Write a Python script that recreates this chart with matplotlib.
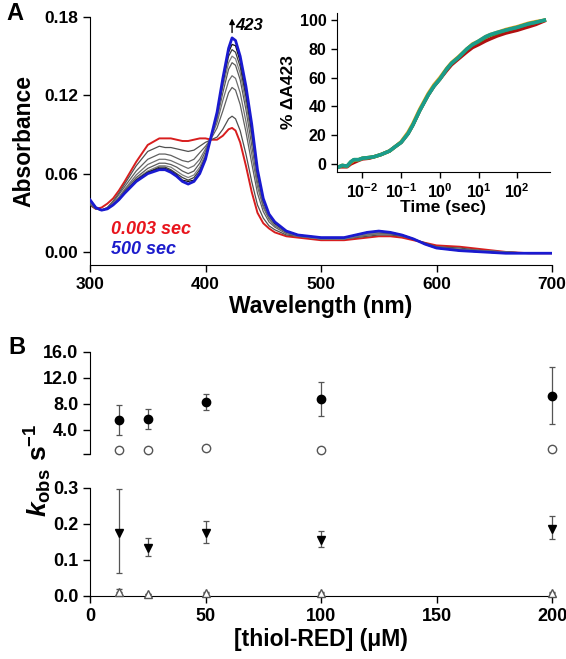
import numpy as np
import matplotlib
matplotlib.use('Agg')
import matplotlib.pyplot as plt

plt.rcParams['font.family'] = ['Liberation Sans', 'DejaVu Sans']
plt.rcParams['font.weight'] = 'bold'
plt.rcParams['mathtext.fontset'] = 'custom'
plt.rcParams['mathtext.rm'] = 'Liberation Sans:bold'
plt.rcParams['mathtext.it'] = 'Liberation Sans:italic:bold'
plt.rcParams['mathtext.bf'] = 'Liberation Sans:bold'

## panel A: spectra (absorbance vs wavelength)
wl = [300, 305, 310, 315, 320, 325, 330, 340, 350, 360, 365, 370, 375, 380, 385, 390, 395, 400,
      405, 410, 415, 420, 423, 426, 430, 435, 440, 445, 450, 455, 460, 470, 480, 490, 500, 520,
      540, 550, 560, 570, 580, 590, 600, 620, 640, 660, 680, 700]

abs_red = [.036, .033, .034, .037, .041, .047, .054, .069, .082, .087, .087, .087, .086, .085, .085, .086, .087, .087,
           .086, .086, .089, .094, .095, .093, .084, .066, .046, .030, .022, .018, .015, .012, .011, .010, .009, .009,
           .011, .012, .012, .011, .009, .007, .005, .004, .002, .000, -.001, -.001]
abs_g1 = [.036, .033, .032, .034, .039, .045, .052, .066, .077, .081, .080, .080, .079, .078, .077, .078, .081, .084,
          .086, .088, .094, .102, .104, .102, .093, .075, .054, .036, .026, .020, .017, .013, .012, .011, .010, .010,
          .012, .013, .013, .012, .010, .007, .004, .003, .001, .000, -.001, -.001]
abs_g2 = [.037, .033, .032, .034, .038, .044, .050, .062, .071, .075, .075, .074, .072, .070, .069, .071, .076, .081,
          .087, .095, .108, .122, .126, .124, .113, .092, .068, .045, .031, .023, .019, .014, .012, .011, .010, .010,
          .013, .014, .014, .012, .010, .006, .004, .002, .001, .000, -.001, -.001]
abs_g3 = [.038, .034, .032, .033, .037, .042, .048, .059, .067, .071, .071, .070, .068, .066, .064, .066, .071, .079,
          .088, .099, .116, .131, .135, .133, .122, .100, .075, .050, .034, .025, .020, .015, .012, .011, .010, .010,
          .013, .014, .014, .013, .010, .006, .003, .002, .001, .000, -.001, -.001]
abs_g4 = [.039, .034, .032, .033, .036, .041, .047, .057, .064, .068, .068, .067, .065, .062, .060, .062, .068, .077,
          .088, .102, .122, .140, .145, .143, .132, .109, .082, .054, .036, .026, .021, .015, .013, .011, .010, .010,
          .014, .015, .014, .013, .010, .006, .003, .001, .000, -.001, -.001, -.001]
abs_g5 = [.039, .034, .032, .033, .036, .041, .046, .056, .062, .066, .066, .065, .062, .059, .057, .059, .065, .075,
          .089, .104, .126, .145, .150, .148, .137, .114, .087, .057, .038, .027, .021, .016, .013, .011, .010, .010,
          .014, .015, .015, .013, .010, .006, .003, .001, .000, -.001, -.001, -.001]
abs_g6 = [.040, .034, .032, .033, .036, .040, .046, .055, .061, .065, .065, .063, .060, .057, .055, .057, .063, .073,
          .089, .105, .129, .150, .155, .153, .142, .119, .091, .059, .039, .028, .022, .016, .013, .012, .011, .011,
          .015, .016, .015, .013, .010, .006, .003, .001, .000, -.001, -.001, -.001]
abs_g7 = [.040, .034, .032, .033, .036, .040, .045, .055, .061, .064, .064, .062, .059, .055, .054, .055, .061, .072,
          .089, .106, .131, .153, .159, .158, .146, .123, .095, .061, .040, .029, .022, .016, .013, .012, .011, .011,
          .015, .016, .015, .013, .010, .006, .003, .001, .000, -.001, -.001, -.001]
abs_blue = [.040, .034, .032, .033, .036, .040, .045, .054, .060, .063, .063, .061, .058, .054, .052, .054, .060, .071,
            .089, .107, .133, .156, .164, .162, .150, .127, .098, .063, .041, .029, .023, .016, .013, .012, .011, .011,
            .015, .016, .015, .013, .010, .006, .003, .001, .000, -.001, -.001, -.001]
gray_traces = [abs_g1, abs_g2, abs_g3, abs_g4, abs_g5, abs_g6, abs_g7]
gray_colors = ['#505050', '#606060', '#707070', '#5a5a5a', '#808080', '#3c3c3c', '#101010']

## inset: % change at 423 nm vs time
t_sec = [0.0025, 0.003, 0.004, 0.005, 0.006, 0.008, 0.01, 0.015, 0.02, 0.03, 0.05, 0.07, 0.1, 0.15, 0.2,
         0.3, 0.5, 0.7, 1, 1.5, 2, 3, 5, 7, 10, 15, 20, 30, 50, 70, 100, 150, 200, 300, 500]
pct_red = [-2, -2, -2, 0, 1, 2.5, 3.5, 4, 5, 6.5, 9, 12, 15, 21, 27, 37, 48, 54, 59, 65, 69, 73, 78, 81, 83,
           85.5, 87, 89, 91, 92, 93, 94.5, 95.5, 97, 99.5]
pct_orange = [-2, -1, -1.5, 1, 2.5, 3, 4, 4.5, 5, 6.5, 9, 12, 15.5, 22, 28, 38, 49, 55, 60, 66.5, 70.5, 74.5, 80,
              83.5, 85.5, 88.5, 90, 91.5, 93.5, 94.5, 95.5, 97, 98, 99, 100]
pct_green = [-2, -1, -1.5, 1.5, 3, 3, 4, 4.5, 5, 6.5, 9, 12, 15, 21, 27, 37, 48, 54, 59, 66, 70, 74, 80, 83,
             85, 88, 89.5, 91, 93, 94, 95, 96.5, 97.5, 98.5, 100]
pct_teal = [-2, -1, -1.5, 1.5, 3, 3, 4, 4.5, 5, 6.5, 9, 12, 15, 21, 27, 37, 48, 54, 59, 66, 70, 74, 80, 83,
            85.5, 88.5, 90, 91.5, 93, 94, 95, 96.5, 97.5, 98.5, 100]

## panel B: k_obs vs [thiol-RED]
conc = [12.5, 25, 50, 100, 200]
k_fast = [5.5, 5.7, 8.3, 8.8, 9.3]
k_fast_lo = [3.2, 4.1, 7.0, 6.2, 4.9]
k_fast_hi = [7.8, 7.3, 9.6, 11.4, 13.7]
k_fast_open = [0.85, 0.85, 1.2, 0.95, 1.1]
k_slow = [0.175, 0.134, 0.176, 0.156, 0.186]
k_slow_lo = [0.064, 0.112, 0.147, 0.137, 0.157]
k_slow_hi = [0.296, 0.160, 0.209, 0.181, 0.221]
k_slow_open = [0.010, 0.005, 0.008, 0.007, 0.008]
k_slow_open_hi = [0.020, 0.005, 0.011, 0.010, 0.011]

W, H = 566, 659
fig = plt.figure(figsize=(W / 100, H / 100), dpi=100)

def box(l, t, r, b):
    return [l / W, 1 - b / H, (r - l) / W, (b - t) / H]

# --- panel A
ax = fig.add_axes(box(90, 17, 552, 265))
ax.plot(wl, abs_red, color='#d81e1e', lw=1.4, zorder=2)
for tr, c in zip(gray_traces, gray_colors):
    ax.plot(wl, tr, color=c, lw=0.9, zorder=3)
ax.plot(wl, abs_blue, color='#1a1ad0', lw=2.0, zorder=4)
ax.set_xlim(300, 700)
ax.set_ylim(-0.01, 0.18)
ax.set_xticks([300, 400, 500, 600, 700])
ax.set_yticks([0.0, 0.06, 0.12, 0.18])
ax.set_yticklabels(['0.00', '0.06', '0.12', '0.18'])
for s in ['top', 'right']:
    ax.spines[s].set_visible(False)
ax.tick_params(labelsize=12.5, direction='out', length=5, width=1)
ax.set_xlabel('Wavelength (nm)', fontsize=16.5, fontweight='bold', labelpad=2)
ax.set_ylabel('Absorbance', fontsize=16.5, fontweight='bold', labelpad=6)
ax.annotate('', xy=(423, 0.181), xytext=(423, 0.166),
            arrowprops=dict(arrowstyle='-|>', lw=1, color='k', mutation_scale=8), annotation_clip=False)
ax.text(426, 0.1735, '423', fontsize=12, fontweight='bold', style='italic', va='center', ha='left')
ax.text(318, 0.0175, '0.003 sec', fontsize=13, fontweight='bold', style='italic', color='#e8141c', va='center')
ax.text(318, 0.0015, '500 sec', fontsize=13, fontweight='bold', style='italic', color='#1c1ccc', va='center')
fig.text(6 / W, 1 - 14 / H, 'A', fontsize=17, fontweight='bold', va='center')

# --- inset
ins = fig.add_axes(box(337, 13, 550, 172))
ins.plot(t_sec, pct_red, color='#b01010', lw=2.5)
ins.plot(t_sec, pct_orange, color='#e0a020', lw=2.5)
ins.plot(t_sec, pct_green, color='#3a9a3a', lw=2.5)
ins.plot(t_sec, pct_teal, color='#1a9c8c', lw=2.5)
ins.set_xscale('log')
ins.set_xlim(0.0022, 700)
ins.set_ylim(-5.6, 105)
ins.set_yticks([0, 20, 40, 60, 80, 100])
ins.set_xticks([0.01, 0.1, 1, 10, 100])
ins.set_xticklabels([r'$\mathbf{10^{-2}}$', r'$\mathbf{10^{-1}}$', r'$\mathbf{10^{0}}$',
                     r'$\mathbf{10^{1}}$', r'$\mathbf{10^{2}}$'])
for s in ['top', 'right']:
    ins.spines[s].set_visible(False)
ins.patch.set_alpha(0)
ins.tick_params(labelsize=11.5, direction='out', length=4, width=1)
ins.tick_params(which='minor', direction='out', length=2.5, width=0.8)
ins.set_xlabel('Time (sec)', fontsize=12.5, fontweight='bold', labelpad=-1)
ins.set_ylabel('% \u0394A423', fontsize=12.5, fontweight='bold', labelpad=3)

# --- panel B top (fast phase)
bt = fig.add_axes(box(90, 352, 552, 454))
bt.errorbar(conc, k_fast, yerr=[np.subtract(k_fast, k_fast_lo), np.subtract(k_fast_hi, k_fast)],
            fmt='o', color='black', ms=6, ecolor='#555555', elinewidth=0.9, capsize=2.5, capthick=0.9,
            clip_on=False, zorder=3)
bt.plot(conc, k_fast_open, 'o', mfc='white', mec='#555555', ms=6, mew=1, clip_on=False)
bt.set_xlim(0, 200)
bt.set_ylim(0.3, 16)
bt.set_yticks([0.3, 4, 8, 12, 16])
bt.set_yticklabels(['', '4.0', '8.0', '12.0', '16.0'])
bt.set_xticks([])
for s in ['top', 'right', 'bottom']:
    bt.spines[s].set_visible(False)
bt.tick_params(labelsize=13, direction='out', length=5, width=1)
fig.text(8 / W, 1 - 347 / H, 'B', fontsize=17, fontweight='bold', va='center')

# --- panel B bottom (slow phase)
bb = fig.add_axes(box(90, 488, 552, 596))
bb.errorbar(conc, k_slow, yerr=[np.subtract(k_slow, k_slow_lo), np.subtract(k_slow_hi, k_slow)],
            fmt='v', color='black', ms=6, ecolor='#555555', elinewidth=0.9, capsize=2.5, capthick=0.9,
            clip_on=False, zorder=3)
bb.errorbar(conc, k_slow_open, yerr=[np.zeros(5), np.subtract(k_slow_open_hi, k_slow_open)],
            fmt='^', mfc='white', mec='#555555', ms=6, mew=1, ecolor='#555555', elinewidth=0.9,
            capsize=2.5, capthick=0.9, clip_on=False, zorder=3)
bb.set_xlim(0, 200)
bb.set_ylim(0, 0.3)
bb.set_yticks([0.0, 0.1, 0.2, 0.3])
bb.set_yticklabels(['0.0', '0.1', '0.2', '0.3'])
bb.set_xticks([0, 50, 100, 150, 200])
for s in ['top', 'right']:
    bb.spines[s].set_visible(False)
bb.tick_params(labelsize=13, direction='out', length=5, width=1)
bb.set_xlabel('[thiol-RED] (\u03bcM)', fontsize=16.5, fontweight='bold', labelpad=2)

fig.text(38 / W, 1 - 470 / H, r'$k_{\mathrm{obs}}\ \mathrm{s}^{\mathrm{-1}}$', fontsize=19,
         rotation=90, ha='center', va='center')

fig.savefig('out.png', dpi=100)
